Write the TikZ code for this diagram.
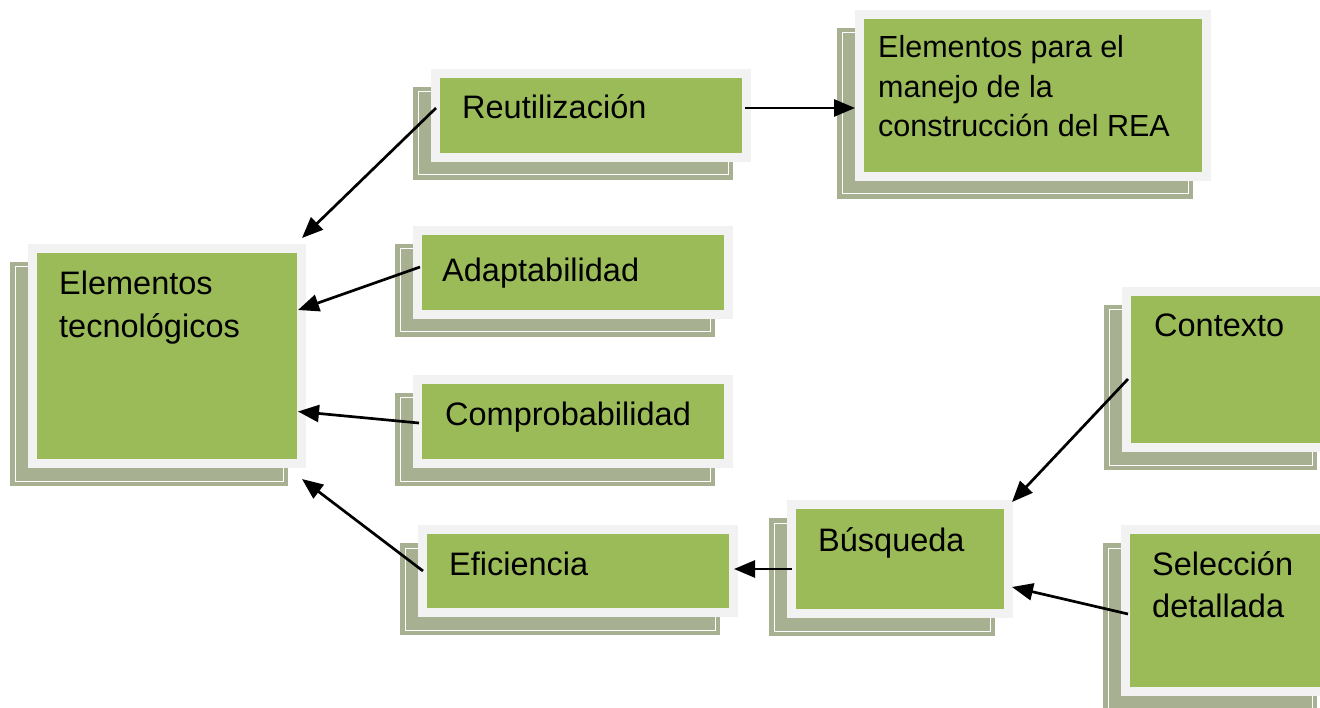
\documentclass[tikz,border=0pt]{standalone}
\usepackage{fontspec}
\setmainfont{Liberation Sans}
\usetikzlibrary{arrows.meta}
\definecolor{reagreen}{HTML}{9BBB59}
\definecolor{reaborder}{HTML}{F2F2F2}
\definecolor{reashadow}{HTML}{A7B192}
\newcommand\reabox[5]{%
  \fill[reashadow] (#2-18,#3+18) rectangle (#4-18,#5+18);
  \draw[white, line width=1pt] (#2-13,#3+23) rectangle (#4-23,#5+13);
  \node[box, minimum width=#4-#2-9, minimum height=#5-#3-9] (#1) at ({(#2+#4)/2},{(#3+#5)/2}) {};
}
\tikzset{
  box/.style={rectangle, fill=reagreen, draw=reaborder, line width=9pt, inner sep=0pt},
  txt/.style={font=\fontsize{32.5}{43}\selectfont, inner sep=0pt, anchor=base west, align=left},
  txtsmall/.style={font=\fontsize{30.5}{39.5}\selectfont, inner sep=0pt, anchor=base west, align=left},
  link/.style={line width=2.7pt, -{Triangle[length=21pt,width=17pt]}}
}
\begin{document}
\begin{tikzpicture}[x=1pt,y=-1pt]
\useasboundingbox (0,0) rectangle (1320,708);
\clip (0,0) rectangle (1320,708);
\fill[white] (0,0) rectangle (1320,708);
% boxes
\reabox{et}{28}{244}{306}{468}
\reabox{reut}{431}{69}{751}{162}
\reabox{epe}{855}{10}{1211}{181}
\reabox{adap}{413}{226}{733}{319}
\reabox{comp}{413}{375}{733}{468}
\reabox{efic}{418}{525}{738}{617}
\reabox{busq}{787}{500}{1013}{618}
\reabox{ctx}{1122}{287}{1335}{452}
\reabox{sel}{1121}{525}{1335}{696}
% texts (multi-line: base = last line baseline)
\node[txt] (et-t) at (59,338) {Elementos\\tecnológicos};
\node[txt] (reut-t) at (462,119) {Reutilización};
\node[txtsmall] (epe-t) at (878,137) {Elementos para el\\manejo de la\\construcción del REA};
\node[txt] (adap-t) at (442,282) {Adaptabilidad};
\node[txt] (comp-t) at (445,425) {Comprobabilidad};
\node[txt] (efic-t) at (449,575) {Eficiencia};
\node[txt] (busq-t) at (818,551) {Búsqueda};
\node[txt] (ctx-t) at (1154,337) {Contexto};
\node[txt, font=\fontsize{32.5}{42}\selectfont] (sel-t) at (1152,617) {Selección\\detallada};
% connectors
\draw[link] ([xshift=5pt,yshift=7.5pt]reut.west) -- ([xshift=-4pt,yshift=6pt]et.north east);
\draw[link] ([xshift=7pt,yshift=5.5pt]adap.west) -- ([xshift=-8pt,yshift=46pt]et.east);
\draw[link] ([xshift=6pt,yshift=-1.5pt]comp.west) -- ([xshift=-8pt,yshift=-55.5pt]et.east);
\draw[link] ([xshift=5pt]efic.west) -- ([xshift=-4pt,yshift=-11pt]et.south east);
\draw[link] ([xshift=-6pt,yshift=7.5pt]reut.east) -- ([yshift=-12.5pt]epe.west);
\draw[link] ([xshift=5pt,yshift=-10pt]busq.west) -- ([xshift=-4pt,yshift=2pt]efic.east);
\draw[link] ([xshift=6pt,yshift=-9.5pt]ctx.west) -- ([xshift=-1pt,yshift=-2pt]busq.north east);
\draw[link] ([xshift=7pt,yshift=-3.5pt]sel.west) -- ([xshift=-1pt,yshift=-28pt]busq.east);
\end{tikzpicture}
\end{document}
